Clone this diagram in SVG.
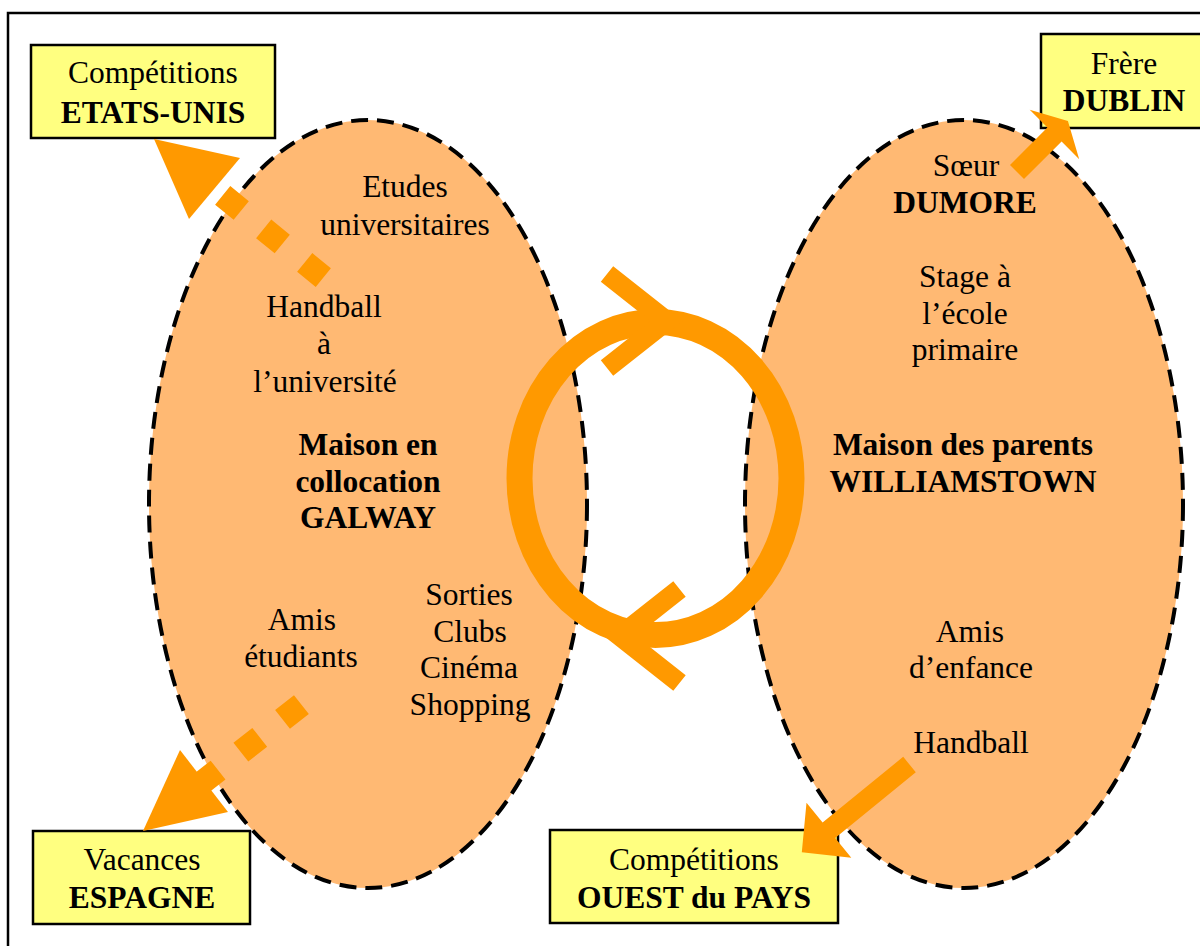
<svg xmlns="http://www.w3.org/2000/svg" width="1200" height="946" viewBox="0 0 1200 946">
<defs>
<style>
.frame{fill:none;stroke:#000;stroke-width:2.5}
.place{fill:#FFB973;stroke:#000;stroke-width:4;stroke-dasharray:17 9}
.box{fill:#FFFF80;stroke:#000;stroke-width:2.5}
.t{font-family:"Liberation Serif","Times New Roman",serif;font-size:31.5px;fill:#000;text-anchor:middle}
.b{font-weight:bold}
.arr{fill:#FF9900;stroke:none}
.dots{fill:none;stroke:#FF9900;stroke-width:24;stroke-dasharray:24 29}
.loop{fill:none;stroke:#FF9900;stroke-width:26}
.chev{fill:none;stroke:#FF9900;stroke-width:20;stroke-linejoin:miter;stroke-linecap:butt}
</style>
</defs>
<rect class="frame" x="8" y="13" width="1250" height="1000"/>

<g id="galway">
<ellipse class="place" cx="368" cy="504" rx="219" ry="384"/>
<text class="t" x="405" y="197">Etudes</text>
<text class="t" x="405" y="235">universitaires</text>
<text class="t" x="324" y="317">Handball</text>
<text class="t" x="324" y="354">à</text>
<text class="t" x="325" y="392">l’université</text>
<text class="t b" x="368" y="455">Maison en</text>
<text class="t b" x="368" y="492">collocation</text>
<text class="t b" x="368" y="528">GALWAY</text>
<text class="t" x="302" y="630">Amis</text>
<text class="t" x="301" y="667">étudiants</text>
<text class="t" x="469" y="605">Sorties</text>
<text class="t" x="470" y="642">Clubs</text>
<text class="t" x="469" y="678">Cinéma</text>
<text class="t" x="470" y="715">Shopping</text>
</g>

<g id="williamstown">
<ellipse class="place" cx="964" cy="504" rx="219" ry="384"/>
<text class="t" x="966" y="176">Sœur</text>
<text class="t b" x="965" y="213">DUMORE</text>
<text class="t" x="965" y="287">Stage à</text>
<text class="t" x="965" y="324">l’école</text>
<text class="t" x="965" y="360">primaire</text>
<text class="t b" x="963" y="455">Maison des parents</text>
<text class="t b" x="963" y="492">WILLIAMSTOWN</text>
<text class="t" x="970" y="642">Amis</text>
<text class="t" x="971" y="678">d’enfance</text>
<text class="t" x="971" y="753">Handball</text>
</g>

<g id="etats-unis">
<rect class="box" x="31" y="45" width="244" height="93"/>
<text class="t" x="153" y="83">Compétitions</text>
<text class="t b" x="153" y="123">ETATS-UNIS</text>
</g>

<g id="dublin">
<rect class="box" x="1041" y="34" width="170" height="94"/>
<text class="t" x="1124" y="74">Frère</text>
<text class="t b" x="1124" y="111">DUBLIN</text>
</g>

<g id="espagne">
<rect class="box" x="33" y="831" width="217" height="93"/>
<text class="t" x="142" y="870">Vacances</text>
<text class="t b" x="142" y="908">ESPAGNE</text>
</g>

<g id="ouest">
<rect class="box" x="550" y="830" width="288" height="93"/>
<text class="t" x="694" y="870">Compétitions</text>
<text class="t b" x="694" y="908">OUEST du PAYS</text>
</g>

<g id="connectors">
<ellipse class="loop" cx="655.5" cy="478.5" rx="136" ry="156.5"/>
<polyline class="chev" points="607,274 666.5,321 607,368"/>
<polyline class="chev" points="679.5,589 620,636 679.5,683"/>
<line class="dots" x1="323.3" y1="277.6" x2="222.7" y2="195.4"/>
<polygon class="arr" points="154,139 240,158 189,219"/>
<line class="dots" x1="301.4" y1="704.6" x2="199.2" y2="784.9"/>
<polygon class="arr" points="143,831 180,750 228,812"/>
<polygon class="arr" points="1010,165 1047.4,127.4 1029.7,109.7 1067.9,121.1 1079.2,159.2 1061.6,141.6 1024,179"/>
<polygon class="arr" points="903.2,756.8 822.6,822.5 806.5,802.7 801.8,852.3 851.3,857.7 835.2,838 915.8,772.3"/>
</g>
</svg>
